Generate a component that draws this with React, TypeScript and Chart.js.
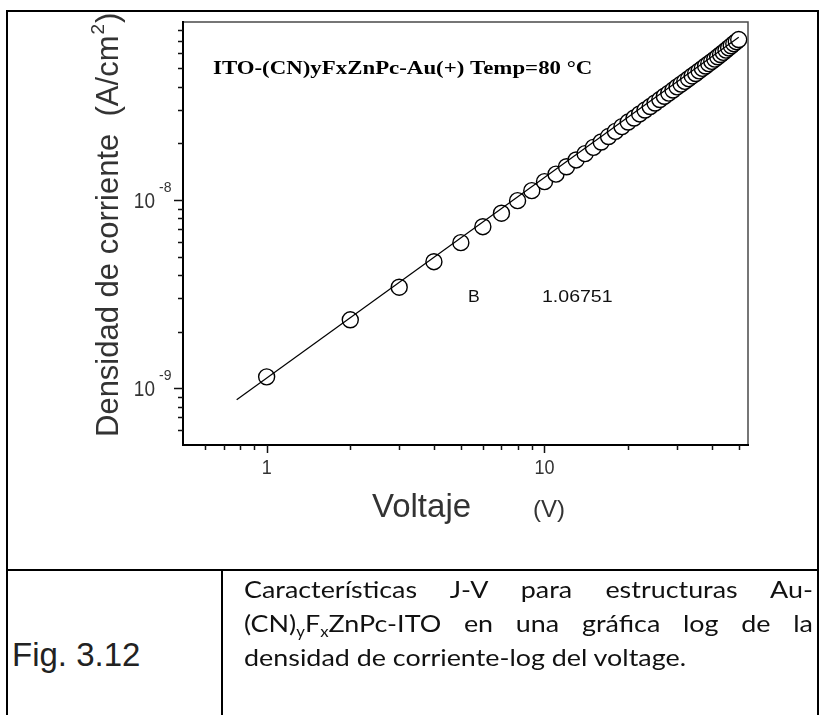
import React, { useEffect, useRef } from "react";
import { Chart, registerables } from "chart.js";

Chart.register(...registerables);

// ---------- data ----------
const voltages = [
  1, 2, 3, 4, 5, 6, 7, 8, 9, 10,
  11, 12, 13, 14, 15, 16, 17, 18, 19, 20,
  21, 22, 23, 24, 25, 26, 27, 28, 29, 30,
  31, 32, 33, 34, 35, 36, 37, 38, 39, 40,
  41, 42, 43, 44, 45, 46, 47, 48, 49, 50,
];
const currentDensity = [
  1.15e-9, 2.31e-9, 3.44e-9, 4.7e-9, 5.93e-9, 7.21e-9, 8.5e-9, 9.91e-9, 1.12e-8, 1.25e-8,
  1.37e-8, 1.5e-8, 1.63e-8, 1.76e-8, 1.9e-8, 2.03e-8, 2.17e-8, 2.31e-8, 2.45e-8, 2.59e-8,
  2.72e-8, 2.86e-8, 3.0e-8, 3.13e-8, 3.27e-8, 3.41e-8, 3.55e-8, 3.69e-8, 3.83e-8, 3.98e-8,
  4.12e-8, 4.26e-8, 4.4e-8, 4.55e-8, 4.69e-8, 4.84e-8, 4.99e-8, 5.14e-8, 5.29e-8, 5.44e-8,
  5.59e-8, 5.75e-8, 5.91e-8, 6.07e-8, 6.24e-8, 6.41e-8, 6.58e-8, 6.75e-8, 6.92e-8, 7.1e-8,
];
// straight fit line (end points)
const fitVoltages = [0.78, 50];
const fitDensity = [8.7e-10, 7.3e-8];

const xRange = [0.5, 54];
const yRange = [5e-10, 8.8e-8];
const xMajorTicks = [1, 10];
const xMajorLabels = ["1", "10"];
const xMinorTicks = [0.6, 0.7, 0.8, 0.9, 2, 3, 4, 5, 6, 7, 8, 9, 20, 30, 40, 50];
const yMajorTicks = [1e-9, 1e-8];
const yMajorExponents = ["-9", "-8"];
const yMinorTicks = [
  6e-10, 7e-10, 8e-10, 9e-10,
  2e-9, 3e-9, 4e-9, 5e-9, 6e-9, 7e-9, 8e-9, 9e-9,
  2e-8, 3e-8, 4e-8, 5e-8, 6e-8, 7e-8, 8e-8,
];

const plotTitle = "ITO-(CN)yFxZnPc-Au(+) Temp=80 °C";
const slopeName = "B";
const slopeValue = "1.06751";
const yTitleMain = "Densidad de corriente  (A/cm";
const yTitleSup = "2";
const yTitleEnd = ")";
const xTitleMain = "Voltaje";
const xTitleUnit = "(V)";
const figLabel = "Fig. 3.12";

// ---------- helpers ----------
type TOpts = {
  align?: CanvasTextAlign;
  baseline?: CanvasTextBaseline;
  sx?: number;
  sy?: number;
  color?: string;
};
function drawText(
  ctx: CanvasRenderingContext2D,
  text: string,
  x: number,
  y: number,
  font: string,
  o: TOpts = {}
) {
  ctx.save();
  ctx.translate(x, y);
  ctx.scale(o.sx ?? 1, o.sy ?? 1);
  ctx.font = font;
  ctx.fillStyle = o.color ?? "#222";
  ctx.textAlign = o.align ?? "left";
  ctx.textBaseline = o.baseline ?? "alphabetic";
  ctx.fillText(text, 0, 0);
  ctx.restore();
}

const SANS = '"Liberation Sans", Arial, sans-serif';
const SERIF = '"Liberation Serif", "Times New Roman", serif';

const decor = {
  id: "decor",
  afterDraw(chart: any) {
    const { ctx, chartArea: a, scales } = chart;
    const xs = scales.x;
    const ys = scales.y;
    ctx.save();

    // frame (top/right lighter)
    ctx.strokeStyle = "#4a4a4a";
    ctx.lineWidth = 1.5;
    ctx.beginPath();
    ctx.moveTo(a.left, a.top);
    ctx.lineTo(a.right, a.top);
    ctx.lineTo(a.right, a.bottom);
    ctx.stroke();
    ctx.strokeStyle = "#000";
    ctx.lineWidth = 2;
    ctx.beginPath();
    ctx.moveTo(a.left, a.top - 1);
    ctx.lineTo(a.left, a.bottom);
    ctx.lineTo(a.right + 1, a.bottom);
    ctx.stroke();

    // ticks
    ctx.lineWidth = 1.5;
    ctx.strokeStyle = "#111";
    ctx.beginPath();
    for (const v of xMinorTicks) {
      const px = Math.round(xs.getPixelForValue(v)) + 0.5;
      ctx.moveTo(px, a.bottom);
      ctx.lineTo(px, a.bottom + 5);
    }
    for (const v of xMajorTicks) {
      const px = Math.round(xs.getPixelForValue(v)) + 0.5;
      ctx.moveTo(px, a.bottom);
      ctx.lineTo(px, a.bottom + 8);
    }
    for (const v of yMinorTicks) {
      const py = Math.round(ys.getPixelForValue(v)) + 0.5;
      ctx.moveTo(a.left, py);
      ctx.lineTo(a.left - 5, py);
    }
    for (const v of yMajorTicks) {
      const py = Math.round(ys.getPixelForValue(v)) + 0.5;
      ctx.moveTo(a.left, py);
      ctx.lineTo(a.left - 9, py);
    }
    ctx.stroke();

    // x tick labels
    xMajorTicks.forEach((v, i) => {
      const px = xs.getPixelForValue(v);
      drawText(ctx, xMajorLabels[i], px, a.bottom + 29, `18px ${SANS}`, {
        align: "center",
        sy: 1.08,
        color: "#333",
      });
    });
    // y tick labels 10^n
    yMajorTicks.forEach((v, i) => {
      const py = ys.getPixelForValue(v);
      drawText(ctx, "10", a.left - 28, py + 8, `19px ${SANS}`, {
        align: "right",
        sy: 1.2,
        color: "#333",
      });
      drawText(ctx, yMajorExponents[i], a.left - 24, py - 8, `14px ${SANS}`, {
        align: "left",
        color: "#333",
      });
    });

    // y title (rotated)
    ctx.save();
    ctx.translate(118, 437);
    ctx.rotate(-Math.PI / 2);
    ctx.font = `31px ${SANS}`;
    ctx.fillStyle = "#333";
    ctx.textBaseline = "alphabetic";
    ctx.textAlign = "left";
    ctx.fillText(yTitleMain, 0, 0);
    let w = ctx.measureText(yTitleMain).width;
    ctx.font = `19px ${SANS}`;
    ctx.fillText(yTitleSup, w + 1, -14);
    w += ctx.measureText(yTitleSup).width + 2;
    ctx.font = `31px ${SANS}`;
    ctx.fillText(yTitleEnd, w, 0);
    ctx.restore();

    // x title
    drawText(ctx, xTitleMain, 372, 517, `33px ${SANS}`, { color: "#333" });
    drawText(ctx, xTitleUnit, 533, 517, `24px ${SANS}`, { color: "#333" });

    // plot title
    drawText(ctx, plotTitle, 213, 74, `bold 18px ${SERIF}`, { sx: 1.27, color: "#000" });

    // slope annotation
    drawText(ctx, slopeName, 468, 302, `16px ${SANS}`, { sx: 1.1, color: "#111" });
    drawText(ctx, slopeValue, 542, 302, `16px ${SANS}`, { sx: 1.22, color: "#111" });

    ctx.restore();
  },
};

export default function App() {
  const ref = useRef<HTMLCanvasElement>(null);

  useEffect(() => {
    const canvas = ref.current!;
    const chart = new Chart(canvas, {
      type: "scatter",
      data: {
        datasets: [
          {
            label: "fit",
            data: fitVoltages.map((v, i) => ({ x: v, y: fitDensity[i] })),
            showLine: true,
            borderColor: "#000",
            backgroundColor: "#000",
            borderWidth: 1.2,
            pointRadius: 0,
            fill: false,
          },
          {
            label: "J-V",
            data: voltages.map((v, i) => ({ x: v, y: currentDensity[i] })),
            showLine: false,
            pointStyle: "circle",
            pointRadius: 8,
            pointBorderWidth: 1.4,
            borderColor: "#000",
            backgroundColor: "#fff",
            pointBorderColor: "#000",
            pointBackgroundColor: "#fff",
          },
        ],
      },
      options: {
        responsive: false,
        animation: false,
        events: [],
        layout: { padding: { left: 183, top: 22, right: 78, bottom: 125 } },
        plugins: {
          legend: { display: false },
          tooltip: { enabled: false },
          title: { display: false },
        },
        scales: {
          x: {
            type: "logarithmic",
            min: xRange[0],
            max: xRange[1],
            ticks: { display: false },
            grid: { display: false, drawTicks: false },
            border: { display: false },
            afterFit: (s: any) => {
              s.height = 0;
            },
          },
          y: {
            type: "logarithmic",
            min: yRange[0],
            max: yRange[1],
            ticks: { display: false },
            grid: { display: false, drawTicks: false },
            border: { display: false },
            afterFit: (s: any) => {
              s.width = 0;
            },
          },
        },
      } as any,
      plugins: [decor],
    });
    return () => chart.destroy();
  }, []);

  const line = (l: number, t: number, w: number, h: number) => (
    <div style={{ position: "absolute", left: l, top: t, width: w, height: h, background: "#000" }} />
  );

  const stretch = 1.12;
  const captionFont = 'Lato, "Open Sans", sans-serif';
  const capLine: React.CSSProperties = {
    position: "absolute",
    left: 244,
    width: Math.round(569 / stretch),
    fontFamily: captionFont,
    fontSize: 24,
    lineHeight: "34px",
    color: "#111",
    whiteSpace: "nowrap",
    transform: `scaleX(${stretch})`,
    transformOrigin: "0 0",
  };
  const justified: React.CSSProperties = {
    ...capLine,
    whiteSpace: "normal",
    textAlign: "justify",
    textAlignLast: "justify" as any,
  };
  const sub: React.CSSProperties = { fontSize: 15, verticalAlign: "-5px", lineHeight: 0 };

  return (
    <div
      style={{
        position: "absolute",
        left: 0,
        top: 0,
        width: 826,
        height: 715,
        background: "#fff",
        overflow: "hidden",
      }}
    >
      <canvas
        ref={ref}
        width={826}
        height={570}
        style={{ position: "absolute", left: 0, top: 0, width: 826, height: 570 }}
      />
      {line(6, 10, 813, 2)}
      {line(6, 10, 2, 705)}
      {line(817, 10, 2, 705)}
      {line(6, 569, 813, 2)}
      {line(221, 570, 2, 145)}
      <div
        style={{
          position: "absolute",
          left: 12,
          top: 638,
          fontFamily: SANS,
          fontSize: 33,
          lineHeight: "33px",
          color: "#222",
          whiteSpace: "nowrap",
        }}
      >
        {figLabel}
      </div>
      <div style={{ ...justified, top: 572 }}>Características J-V para estructuras Au-</div>
      <div style={{ ...justified, top: 606 }}>
        (CN)<span style={sub}>y</span>F<span style={sub}>x</span>ZnPc-ITO en una gráfica log de la
      </div>
      <div style={{ ...capLine, top: 640 }}>densidad de corriente-log del voltage.</div>
    </div>
  );
}
